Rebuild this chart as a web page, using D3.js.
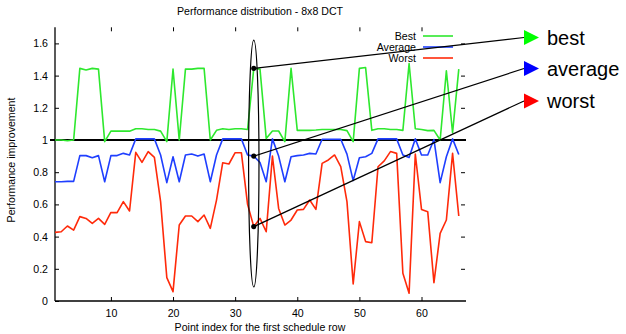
<!DOCTYPE html>
<html>
<head>
<meta charset="utf-8">
<script src="https://cdn.jsdelivr.net/npm/d3@7"></script>
<style>
  body { margin: 0; background: #fff; }
  svg { font-family: "Liberation Sans", Arial, Helvetica, sans-serif; }
  .axis path { display: none; }
  .axis line { stroke: #000; stroke-width: 1; }
  .axis text { font-size: 10.6px; fill: #000; }
</style>
</head>
<body>
<svg id="chart" width="626" height="334"></svg>
<script>
// point index 1..66 for the first schedule row
const best = [1.0, 1.0, 0.995, 1.0, 1.445, 1.435, 1.445, 1.44, 0.99, 1.055,
  1.055, 1.055, 1.055, 1.07, 1.07, 1.065, 1.065, 1.055, 0.99, 1.44,
  1.0, 1.44, 1.44, 1.445, 1.445, 1.0, 1.06, 1.07, 1.065, 1.07,
  1.07, 1.065, 1.445, 1.44, 1.01, 1.056, 1.056, 0.99, 1.445, 1.06,
  1.06, 1.06, 1.062, 1.065, 1.065, 1.065, 1.065, 1.058, 0.99, 1.445,
  1.45, 1.06, 1.07, 1.07, 1.065, 1.065, 1.06, 1.475, 1.07, 1.065,
  1.058, 1.06, 1.0, 1.43, 1.045, 1.44];
const average = [0.741, 0.741, 0.743, 0.743, 0.903, 0.903, 0.89, 0.903, 0.741, 0.903,
  0.903, 0.917, 0.907, 1.007, 1.007, 1.007, 1.007, 0.907, 0.735, 0.896,
  0.741, 0.907, 0.913, 0.9, 0.913, 0.741, 0.907, 1.007, 1.007, 1.007,
  1.007, 0.907, 0.9, 0.86, 0.741, 1.007, 0.9, 0.741, 0.896, 0.903,
  0.907, 0.917, 0.913, 1.005, 1.005, 1.005, 1.005, 0.912, 0.748, 0.89,
  0.896, 0.917, 1.007, 1.007, 1.007, 1.007, 0.907, 0.892, 1.007, 0.907,
  0.907, 1.003, 0.735, 0.896, 1.007, 0.91];
const worst = [0.426, 0.43, 0.466, 0.44, 0.524, 0.513, 0.482, 0.513, 0.476, 0.55,
  0.549, 0.617, 0.559, 0.923, 0.861, 0.928, 0.892, 0.617, 0.145, 0.058,
  0.472, 0.528, 0.528, 0.493, 0.534, 0.451, 0.627, 0.859, 0.851, 0.921,
  0.921, 0.6, 0.462, 0.513, 0.43, 0.9, 0.575, 0.472, 0.503, 0.565,
  0.569, 0.627, 0.569, 0.855, 0.876, 0.907, 0.834, 0.617, 0.106, 0.493,
  0.369, 0.362, 0.834, 0.87, 0.928, 0.917, 0.172, 0.048, 0.913, 0.569,
  0.555, 0.114, 0.42, 0.503, 0.917, 0.528];

const seriesNames = ['Best', 'Average', 'Worst'];
const calloutLabels = ['best', 'average', 'worst'];
const xTicks = [10, 20, 30, 40, 50, 60];
const yTicks = [0, 0.2, 0.4, 0.6, 0.8, 1, 1.2, 1.4, 1.6];
const pickedIndex = 33;

const lineColors = ['#2ee82e', '#1f3fff', '#ff2a0a'];
const arrowColors = ['#00ff00', '#0000ff', '#ff0000'];

const svg = d3.select('#chart');
const plotLeft = 55, plotRight = 465, plotTop = 27.3, plotBottom = 301;

const x = d3.scaleLinear().domain([1, 67]).range([plotLeft, plotRight]);
const y = d3.scaleLinear().domain([0, 1.7]).range([plotBottom, plotTop]);

const fmt = d => String(+d.toFixed(1));

// axes, gnuplot style: border on left and bottom, tics mirrored inward
svg.append('g').attr('class', 'axis')
  .attr('transform', `translate(0,${plotBottom})`)
  .call(d3.axisBottom(x).tickValues(xTicks).tickSizeInner(-4).tickSizeOuter(0).tickPadding(8));
svg.append('g').attr('class', 'axis')
  .attr('transform', `translate(${plotLeft},0)`)
  .call(d3.axisLeft(y).tickValues(yTicks).tickFormat(fmt).tickSizeInner(-4).tickSizeOuter(0).tickPadding(7));
svg.append('g').attr('class', 'axis')
  .attr('transform', `translate(0,${plotTop})`)
  .call(d3.axisTop(x).tickValues(xTicks).tickSizeInner(-4).tickSizeOuter(0).tickFormat(''));
svg.append('g').attr('class', 'axis')
  .attr('transform', `translate(${plotRight},0)`)
  .call(d3.axisRight(y).tickValues(yTicks.slice(1)).tickSizeInner(-4).tickSizeOuter(0).tickFormat(''));

svg.append('line')
  .attr('x1', plotLeft).attr('x2', plotLeft).attr('y1', plotTop).attr('y2', plotBottom)
  .attr('stroke', '#000').attr('stroke-width', 1.3);
svg.append('line')
  .attr('x1', plotLeft).attr('x2', plotRight + 1).attr('y1', plotBottom).attr('y2', plotBottom)
  .attr('stroke', '#000').attr('stroke-width', 1.3);

// reference line at 1
svg.append('line')
  .attr('x1', plotLeft - 5).attr('x2', plotRight + 1)
  .attr('y1', y(1)).attr('y2', y(1))
  .attr('stroke', '#000').attr('stroke-width', 2);

// series
const series = [best, average, worst];
const line = d3.line()
  .x((d, i) => x(i + 1))
  .y(d => y(d));

svg.append('g').selectAll('path')
  .data(series)
  .enter().append('path')
  .attr('d', line)
  .attr('fill', 'none')
  .attr('stroke', (d, i) => lineColors[i])
  .attr('stroke-width', 1.6)
  .attr('stroke-linejoin', 'round');

// title and axis labels
svg.append('text')
  .attr('x', 260).attr('y', 15)
  .attr('text-anchor', 'middle')
  .style('font-size', '10.6px')
  .text('Performance distribution - 8x8 DCT');
svg.append('text')
  .attr('x', 260).attr('y', 331)
  .attr('text-anchor', 'middle')
  .style('font-size', '10.6px')
  .text('Point index for the first schedule row');
svg.append('text')
  .attr('transform', 'translate(15,160) rotate(-90)')
  .attr('text-anchor', 'middle')
  .style('font-size', '10.6px')
  .text('Performance improvement');

// legend
const legend = svg.append('g').selectAll('g')
  .data(seriesNames)
  .enter().append('g')
  .attr('transform', (d, i) => `translate(0,${36 + i * 11})`);
legend.append('text')
  .attr('x', 416).attr('dy', '0.35em')
  .attr('text-anchor', 'end')
  .style('font-size', '10.6px')
  .text(d => d);
legend.append('line')
  .attr('x1', 423).attr('x2', 453)
  .attr('stroke', (d, i) => lineColors[i])
  .attr('stroke-width', 1.6);

// callout: ellipse around the picked point and arrows to the labels
svg.append('ellipse')
  .attr('cx', x(pickedIndex))
  .attr('cy', (y(1.62) + y(0.087)) / 2)
  .attr('rx', 5.2)
  .attr('ry', (y(0.087) - y(1.62)) / 2)
  .attr('fill', 'none')
  .attr('stroke', '#000')
  .attr('stroke-width', 1.2);

const arrowY = [37.5, 68.5, 101];
const picked = series.map(s => s[pickedIndex - 1]);

const callout = svg.append('g').selectAll('g')
  .data(picked)
  .enter().append('g');
callout.append('line')
  .attr('x1', x(pickedIndex)).attr('y1', d => y(d))
  .attr('x2', 524).attr('y2', (d, i) => arrowY[i])
  .attr('stroke', '#000').attr('stroke-width', 1.2);
callout.append('circle')
  .attr('cx', x(pickedIndex)).attr('cy', d => y(d))
  .attr('r', 2.6).attr('fill', '#000');
callout.append('path')
  .attr('d', (d, i) => `M524,${arrowY[i] - 7.5}L539,${arrowY[i]}L524,${arrowY[i] + 7.5}Z`)
  .attr('fill', (d, i) => arrowColors[i]);
callout.append('text')
  .attr('x', 547).attr('y', (d, i) => arrowY[i] + 7)
  .style('font-size', '20px')
  .text((d, i) => calloutLabels[i]);
</script>
</body>
</html>
